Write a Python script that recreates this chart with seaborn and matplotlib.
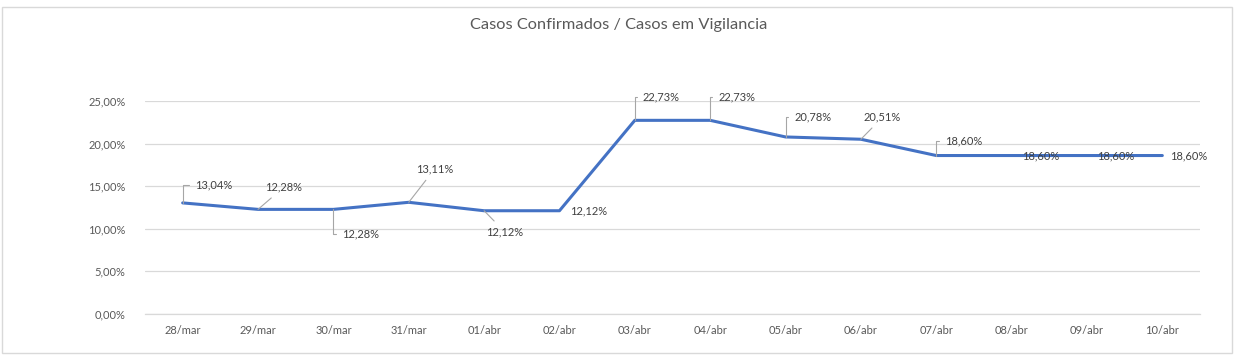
import numpy as np
import pandas as pd
import matplotlib
matplotlib.use("Agg")
import matplotlib.pyplot as plt
from matplotlib.ticker import FuncFormatter, FixedLocator
from matplotlib.patches import Rectangle
import seaborn as sns

# data
dias = ["28/mar", "29/mar", "30/mar", "31/mar", "01/abr", "02/abr", "03/abr",
        "04/abr", "05/abr", "06/abr", "07/abr", "08/abr", "09/abr", "10/abr"]
taxa = [13.04, 12.28, 12.28, 13.11, 12.12, 12.12, 22.73,
        22.73, 20.78, 20.51, 18.60, 18.60, 18.60, 18.60]

# label placement (pixel offsets from the point, leader style)
label_pos = [(12, 18, "elbow"), (7, 22, "line"), (9, -25, "elbow"),
             (7, 33, "line"), (2, -21, "line"), (11, 0, None),
             (8, 23, "elbow"), (8, 23, "elbow"), (9, 20, "elbow"),
             (3, 22, "line"), (9, 15, "elbow"), (10, 0, None),
             (10, 0, None), (8, 0, None)]

df = pd.DataFrame({"dia": dias, "taxa": taxa})

sns.set_theme(style="white")
plt.rcParams["font.family"] = ["Lato", "DejaVu Sans"]

fig = plt.figure(figsize=(12.37, 3.62), dpi=100)
ax = fig.add_axes([145 / 1237, 48 / 362, 1055 / 1237, 213 / 362])

grey_txt = "#595959"
grid_c = "#D9D9D9"

sns.lineplot(data=df, x="dia", y="taxa", ax=ax, color="#4472C4",
             linewidth=2.2, sort=False, zorder=2)

ax.set_xlim(-0.5, len(dias) - 0.5)
ax.set_ylim(0, 25)
ax.yaxis.set_major_locator(FixedLocator([0, 5, 10, 15, 20, 25]))
ax.yaxis.set_major_formatter(FuncFormatter(lambda v, p: f"{v:.2f}%".replace(".", ",")))
ax.grid(axis="y", color=grid_c, linewidth=0.9)
ax.set_axisbelow(True)
ax.set_xlabel("")
ax.set_ylabel("")

for s in ["left", "right", "top"]:
    ax.spines[s].set_visible(False)
ax.spines["bottom"].set_color(grid_c)
ax.spines["bottom"].set_linewidth(0.9)

ax.set_xticks(range(len(dias)))
ax.set_xticklabels(dias)
ax.set_xticks(np.arange(-0.5, len(dias)), minor=True)
ax.tick_params(axis="x", which="major", length=0, pad=8, labelsize=8, labelcolor=grey_txt)
ax.tick_params(axis="x", which="minor", length=4, width=0.9, color=grid_c, direction="out")
ax.tick_params(axis="y", length=0, pad=14, labelsize=8, labelcolor=grey_txt)

for i, (v, (dx, dy, lead)) in enumerate(zip(taxa, label_pos)):
    txt = f"{v:.2f}%".replace(".", ",")
    props = None
    if lead == "elbow":
        props = dict(arrowstyle="-", color="#A6A6A6", lw=0.8,
                     connectionstyle="angle,angleA=0,angleB=90,rad=0",
                     shrinkA=2, shrinkB=0)
    elif lead == "line":
        props = dict(arrowstyle="-", color="#A6A6A6", lw=0.8,
                     shrinkA=2, shrinkB=0)
    ax.annotate(txt, xy=(i, v), xytext=(dx, dy), textcoords="offset pixels",
                ha="left", va="center", fontsize=8, color="#404040",
                arrowprops=props, zorder=3)

fig.suptitle("Casos Confirmados / Casos em Vigilancia", y=1 - 25 / 362,
             va="center", fontsize=11.8, color=grey_txt)

# chart frame
fig.patches.append(Rectangle((2 / 1237, 9 / 362), 1230 / 1237, 346 / 362,
                             transform=fig.transFigure, fill=False,
                             edgecolor="#D9D9D9", linewidth=1))

fig.savefig("out.png", dpi=100)
